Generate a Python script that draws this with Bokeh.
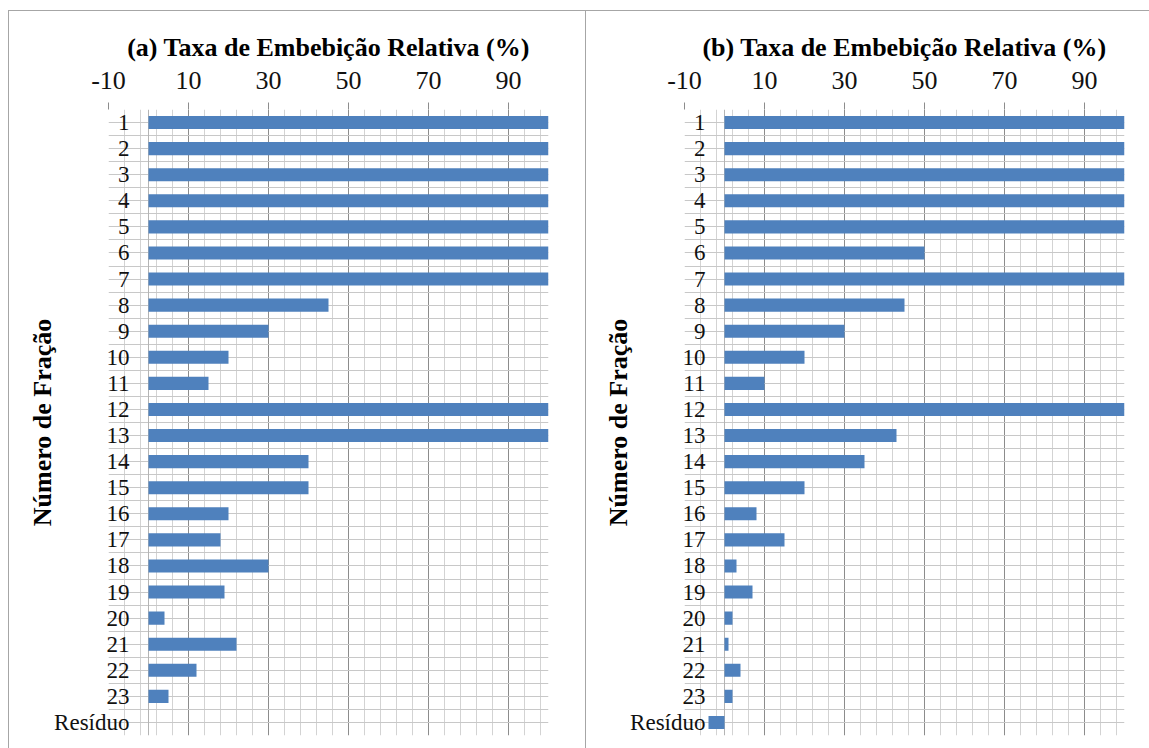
from bokeh.plotting import figure
from bokeh.models import FixedTicker, Span, Range1d, FactorRange, Div
from bokeh.layouts import row, column
from bokeh.embed import file_html
from bokeh.resources import INLINE

# Frações (de cima para baixo) e taxas de embebição relativa (%)
fracoes = [str(i) for i in range(1, 24)] + ["Resíduo"]
taxa_a = [100, 100, 100, 100, 100, 100, 100, 45, 30, 20, 15, 100, 100,
          40, 40, 20, 18, 30, 19, 4, 22, 12, 5, 0]
taxa_b = [100, 100, 100, 100, 100, 50, 100, 45, 30, 20, 10, 100, 43,
          35, 20, 8, 15, 3, 7, 2, 1, 4, 2, -4]

titulo_a = "(a) Taxa de Embebição Relativa (%)"
titulo_b = "(b) Taxa de Embebição Relativa (%)"
rotulo_y = "Número de Fração"

x_inicio, x_fim = -10, 100
ticks_x = [-10, 10, 30, 50, 70, 90]
ticks_x_menores = [v for v in range(-10, 100, 4) if v not in ticks_x]

SERIF = "Liberation Serif"
AZUL = "#4F81BD"
CINZA_MAIOR = "#8c8c8c"
CINZA_MENOR = "#d3d3d3"
CINZA_BORDA = "#a6a6a6"

ALTURA = 737


def painel(valores, titulo, largura, margem_esq, margem_dir):
    p = figure(width=largura, height=ALTURA,
               x_range=Range1d(x_inicio, x_fim),
               y_range=FactorRange(factors=list(reversed(fracoes))),
               x_axis_location="above",
               output_backend="svg", toolbar_location=None,
               min_border_left=margem_esq, min_border_right=margem_dir,
               min_border_top=98, min_border_bottom=13,
               background_fill_color="white", border_fill_color="white")
    p.outline_line_color = None

    p.hbar(y=fracoes, left=0, right=valores, height=0.5,
           fill_color=AZUL, line_color=None)

    # eixo de valores (topo)
    xa = p.xaxis[0]
    xa.ticker = FixedTicker(ticks=ticks_x, minor_ticks=ticks_x_menores)
    xa.major_label_overrides = {-10: "-10"}
    xa.axis_line_color = None
    xa.major_tick_out = 7
    xa.major_tick_in = 0
    xa.major_tick_line_color = CINZA_MAIOR
    xa.minor_tick_line_color = None
    xa.major_label_standoff = 14
    xa.major_label_text_font = SERIF
    xa.major_label_text_font_size = "26px"
    xa.major_label_text_color = "#111111"
    xa.axis_label = titulo
    xa.axis_label_text_font = SERIF
    xa.axis_label_text_font_style = "bold"
    xa.axis_label_text_font_size = "26px"
    xa.axis_label_text_color = "black"
    xa.axis_label_standoff = 7

    # eixo de categorias: rótulos dentro da área, à esquerda do zero
    ya = p.yaxis[0]
    ya.axis_line_color = None
    ya.major_tick_line_color = None
    ya.major_tick_out = 0
    ya.major_tick_in = 0
    ya.minor_tick_line_color = None
    ya.major_label_standoff = -21
    ya.major_label_text_font = SERIF
    ya.major_label_text_font_size = "23px"
    ya.major_label_text_color = "#111111"
    ya.axis_label = rotulo_y
    ya.axis_label_standoff = -6
    ya.axis_label_text_font = SERIF
    ya.axis_label_text_font_style = "bold"
    ya.axis_label_text_font_size = "26px"
    ya.axis_label_text_color = "black"

    # grade
    p.xgrid.ticker = FixedTicker(ticks=ticks_x, minor_ticks=ticks_x_menores)
    p.xgrid.grid_line_color = CINZA_MAIOR
    p.xgrid.minor_grid_line_color = CINZA_MENOR
    p.ygrid.ticker = FixedTicker(ticks=[k * 0.5 for k in range(49)])
    p.ygrid.grid_line_color = "#c8c8c8"
    p.xgrid.level = "underlay"
    p.ygrid.level = "underlay"
    p.add_layout(Span(location=0, dimension="height",
                      line_color="#b4b4b4", line_width=1, level="underlay"))
    return p


def traco(w, h):
    return Div(text="", width=w, height=h, margin=0,
               styles={"background-color": CINZA_BORDA})


def vazio(w, h):
    return Div(text="", width=w, height=h, margin=0)


pa = painel(taxa_a, titulo_a, 576, 99, 37)
pb = painel(taxa_b, titulo_b, 563, 98, 25)

pagina = column(
    vazio(1149, 10),
    row(vazio(8, 1), traco(1141, 1), spacing=0),
    row(vazio(8, ALTURA), traco(1, ALTURA), pa, traco(1, ALTURA), pb,
        spacing=0),
    spacing=0,
)

open("out.html", "w").write(file_html(pagina, INLINE))
